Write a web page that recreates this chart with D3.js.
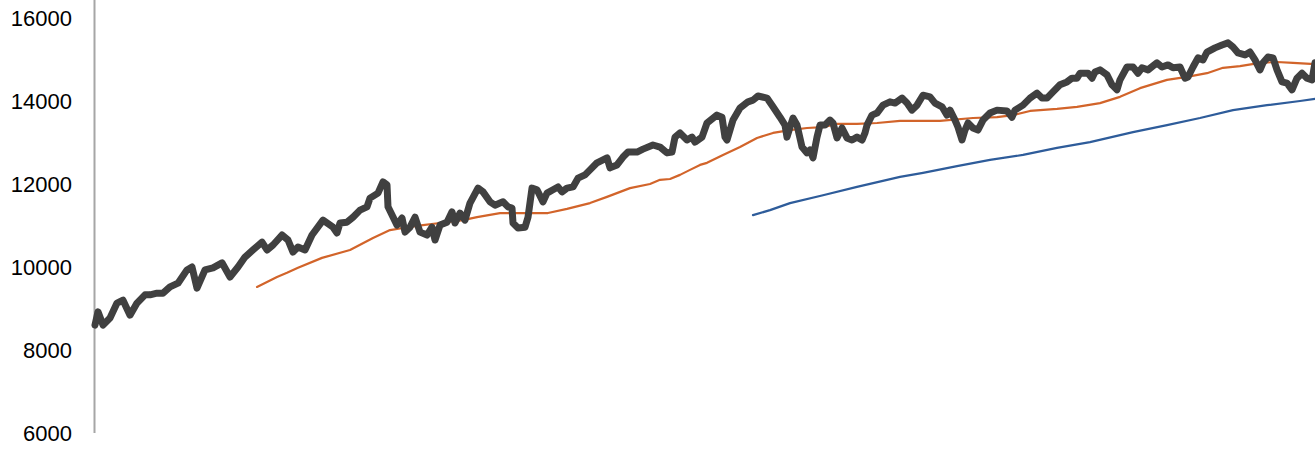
<!DOCTYPE html>
<html>
<head>
<meta charset="utf-8">
<script src="https://cdn.jsdelivr.net/npm/d3@7"></script>
<style>
  body { margin: 0; background: #fff; }
  text { font-family: "Liberation Sans", Arial, sans-serif; }
</style>
</head>
<body>
<div id="line-chart"></div>
<script>
// trading day index and index level
var priceDays = [0,3,8,15,22,28,35,42,50,55,62,68,75,83,92,97,102,110,118,127,135,143,150,158,167,172,178,187,193,198,203,
  210,217,228,238,242,245,252,258,265,272,275,283,288,292,293,302,307,310,315,320,325,332,337,340,345,352,357,360,365,370,375,383,388,395,400,405,
  408,413,417,418,423,430,433,437,442,448,452,458,463,467,472,478,483,490,495,502,512,515,522,528,533,542,548,558,565,572,577,580,585,592,597,600,607,
  612,622,627,630,632,638,645,653,658,663,672,678,685,690,692,695,698,702,707,712,715,718,722,725,730,735,738,742,747,752,757,762,767,770,772,777,782,788,795,800,
  807,812,817,822,828,835,840,847,852,855,860,863,867,870,873,878,883,888,895,902,912,917,920,928,935,942,947,952,958,965,972,977,982,985,993,997,1000,1005,
  1012,1017,1022,1025,1032,1038,1043,1047,1053,1062,1067,1073,1078,1085,1090,1093,1098,1103,1108,1112,1120,1127,1133,1138,1143,1150,1155,1160,1165,1168,1173,1178,1182,1187,1192,1197,1202,1207,1212,1217,1220];
var priceValues = [8600,8920,8600,8770,9130,9200,8840,9130,9330,9330,9370,9370,9520,9610,9930,10000,9490,9930,9980,10100,9760,10000,10240,10410,10600,10410,10530,10770,10650,10360,10480,
  10410,10770,11130,10960,10820,11060,11080,11200,11370,11450,11660,11780,12050,11980,11450,11010,11180,10840,10960,11200,10840,10770,10960,10650,11010,11080,11330,11060,11300,11130,11540,11900,11810,11570,11490,11540,
  11570,11450,11420,11060,10940,10960,11200,11900,11860,11570,11780,11860,11930,11810,11900,11930,12140,12220,12340,12510,12630,12390,12460,12650,12770,12770,12840,12940,12890,12750,12770,13130,13230,13060,13130,13010,13130,
  13470,13660,13610,13130,13060,13540,13830,13980,14020,14120,14070,13860,13610,13420,13130,13370,13590,13420,12890,12750,12820,12630,13130,13420,13420,13540,13470,13110,13350,13110,13060,13130,13060,13230,13420,13660,13710,13900,13980,13950,
  14070,13950,13780,13900,14140,14100,13950,13860,13660,13780,13540,13370,13060,13300,13470,13350,13300,13540,13710,13780,13760,13610,13780,13900,14070,14190,14070,14070,14220,14390,14460,14550,14550,14670,14670,14550,14700,14750,
  14630,14390,14270,14510,14820,14820,14670,14800,14750,14920,14820,14870,14800,14820,14550,14580,14820,15040,14990,15180,15280,15350,15400,15300,15160,15110,15180,14990,14750,14920,15060,15040,14750,14460,14430,14270,14550,14670,14550,14510,14920];

// short moving average (orange)
var shortMaDays = [162,172,182,192,203,227,255,278,295,308,328,345,368,382,405,415,435,453,472,495,512,535,555,565,575,585,595,605,
  612,628,645,662,678,695,712,728,742,762,782,805,845,878,902,918,935,962,982,1005,1025,1045,1072,1092,1112,1128,1145,1165,1182,1198,1220];
var shortMaValues = [9520,9640,9760,9860,9980,10220,10410,10700,10890,10940,11010,11060,11130,11200,11300,11300,11300,11300,11400,11540,11690,11900,12000,12100,12120,12220,12340,12460,
  12510,12700,12890,13110,13230,13300,13350,13370,13450,13450,13470,13520,13520,13590,13610,13660,13760,13810,13860,13950,14100,14310,14510,14580,14670,14800,14840,14920,14940,14920,14890];

// long moving average (blue)
var longMaDays = [658,675,695,728,762,805,828,862,895,928,962,995,1038,1072,1105,1138,1172,1205,1220];
var longMaValues = [11250,11370,11540,11730,11930,12170,12270,12430,12580,12700,12870,13010,13250,13420,13590,13780,13900,14000,14050];

var yTicks = [6000,8000,10000,12000,14000,16000];

var width = 1315, height = 455;
var svg = d3.select("#line-chart")
  .append("svg")
  .attr("width", width)
  .attr("height", height);

var x = d3.scaleLinear()
  .domain([0, 1220])
  .range([95, 1315]);
var y = d3.scaleLinear()
  .domain([6000, 16000])
  .range([433, 18]);

// y axis: plain grey line with labels, no tick marks
svg.append("line")
  .attr("x1", 94.5).attr("x2", 94.5)
  .attr("y1", 0).attr("y2", y(6000))
  .attr("stroke", "#a6a6a6")
  .attr("stroke-width", 2);

svg.selectAll(".ylabel")
  .data(yTicks)
  .enter().append("text")
  .attr("class", "ylabel")
  .attr("x", 72)
  .attr("y", d => y(d))
  .attr("dy", "0.36em")
  .attr("text-anchor", "end")
  .attr("font-size", 22)
  .attr("fill", "#000")
  .text(d => d);

function toPoints(days, values) {
  return days.map((d, i) => ({day: d, value: values[i]}));
}

var line = d3.line()
  .x(d => x(d.day))
  .y(d => y(d.value));

var series = [
  {pts: toPoints(longMaDays, longMaValues), color: "#2e5c9a", w: 2.2},
  {pts: toPoints(shortMaDays, shortMaValues), color: "#d2642a", w: 2.2},
  {pts: toPoints(priceDays, priceValues), color: "#404040", w: 7}
];

series.forEach(function(s) {
  svg.append("path")
    .datum(s.pts)
    .attr("fill", "none")
    .attr("stroke", s.color)
    .attr("stroke-width", s.w)
    .attr("stroke-linejoin", "round")
    .attr("stroke-linecap", "round")
    .attr("d", line);
});
</script>
</body>
</html>
